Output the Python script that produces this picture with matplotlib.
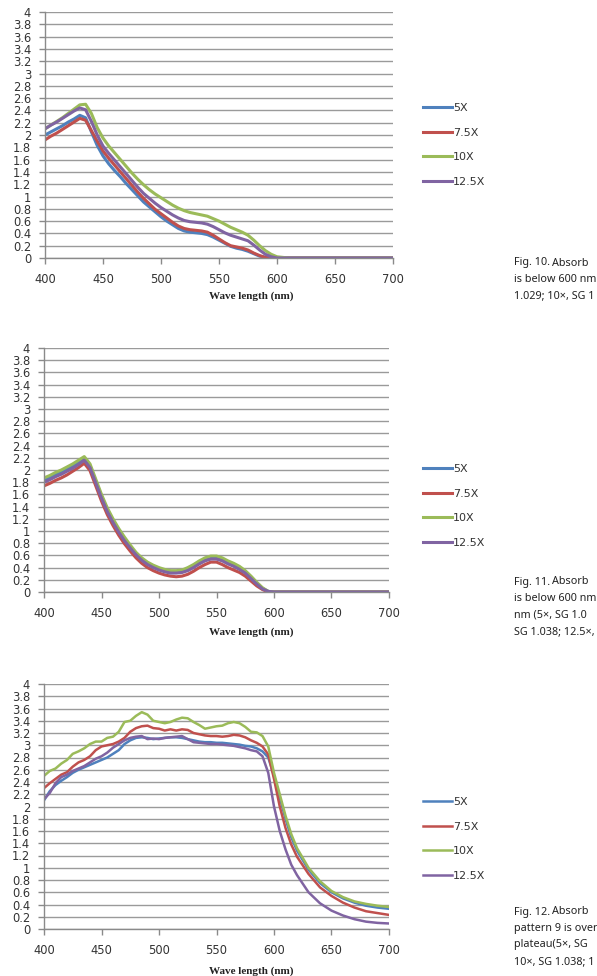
import numpy as np
import matplotlib.pyplot as plt

# ---- data (absorbance vs wavelength) ----
series_names = ["5X", "7.5X", "10X", "12.5X"]
colors = ["#4F81BD", "#C0504D", "#9BBB59", "#8064A2"]

# Fig. 10
wl_10 = [400, 405, 410, 415, 420, 425, 430, 435, 440, 445, 450, 455, 460, 465, 470,
         475, 480, 485, 490, 495, 500, 505, 510, 515, 520, 525, 530, 535, 540, 545,
         550, 555, 560, 565, 570, 575, 580, 585, 590, 595, 600, 605, 610, 700]
f10_5x = [2.00, 2.05, 2.10, 2.15, 2.21, 2.26, 2.32, 2.28, 2.05, 1.83, 1.66, 1.53, 1.42, 1.32, 1.21,
          1.11, 1.01, 0.91, 0.83, 0.75, 0.67, 0.60, 0.54, 0.48, 0.44, 0.42, 0.41, 0.40, 0.38, 0.34,
          0.29, 0.24, 0.19, 0.16, 0.14, 0.11, 0.07, 0.03, 0.01, 0.00, 0.00, 0.00, 0.00, 0.00]
f10_75x = [1.92, 1.98, 2.03, 2.09, 2.15, 2.21, 2.27, 2.24, 2.07, 1.90, 1.74, 1.62, 1.51, 1.40, 1.29,
           1.18, 1.07, 0.97, 0.88, 0.79, 0.72, 0.65, 0.58, 0.52, 0.48, 0.46, 0.45, 0.44, 0.42, 0.37,
           0.31, 0.25, 0.20, 0.18, 0.16, 0.13, 0.08, 0.04, 0.01, 0.00, 0.00, 0.00, 0.00, 0.00]
f10_10x = [2.10, 2.16, 2.22, 2.28, 2.35, 2.42, 2.49, 2.50, 2.35, 2.12, 1.95, 1.82, 1.71, 1.60, 1.49,
           1.38, 1.28, 1.19, 1.11, 1.04, 0.98, 0.92, 0.86, 0.81, 0.77, 0.74, 0.72, 0.70, 0.68, 0.64,
           0.60, 0.55, 0.50, 0.46, 0.42, 0.37, 0.29, 0.20, 0.12, 0.06, 0.02, 0.01, 0.00, 0.00]
f10_125x = [2.10, 2.16, 2.21, 2.27, 2.33, 2.39, 2.44, 2.41, 2.22, 2.00, 1.82, 1.70, 1.59, 1.48, 1.37,
            1.26, 1.15, 1.05, 0.97, 0.89, 0.82, 0.76, 0.70, 0.65, 0.61, 0.59, 0.58, 0.57, 0.55, 0.51,
            0.46, 0.41, 0.37, 0.34, 0.31, 0.28, 0.21, 0.13, 0.06, 0.02, 0.00, 0.00, 0.00, 0.00]

# Fig. 11
wl_11 = wl_10
f11_5x = [1.83, 1.87, 1.92, 1.96, 2.01, 2.06, 2.12, 2.19, 2.07, 1.82, 1.57, 1.35, 1.17, 1.01, 0.87,
          0.74, 0.63, 0.54, 0.47, 0.42, 0.38, 0.35, 0.33, 0.33, 0.34, 0.37, 0.42, 0.48, 0.53, 0.56,
          0.56, 0.53, 0.48, 0.44, 0.39, 0.33, 0.24, 0.14, 0.06, 0.01, 0.00, 0.00, 0.00, 0.00]
f11_75x = [1.74, 1.78, 1.83, 1.87, 1.92, 1.98, 2.04, 2.11, 1.99, 1.74, 1.49, 1.27, 1.09, 0.93, 0.79,
           0.67, 0.56, 0.47, 0.40, 0.35, 0.31, 0.28, 0.26, 0.25, 0.26, 0.29, 0.34, 0.40, 0.45, 0.49,
           0.49, 0.45, 0.40, 0.36, 0.32, 0.26, 0.18, 0.10, 0.04, 0.00, 0.00, 0.00, 0.00, 0.00]
f11_10x = [1.87, 1.91, 1.96, 2.00, 2.05, 2.10, 2.16, 2.22, 2.10, 1.85, 1.60, 1.38, 1.20, 1.04, 0.90,
           0.77, 0.65, 0.56, 0.49, 0.44, 0.40, 0.37, 0.35, 0.35, 0.36, 0.40, 0.45, 0.51, 0.56, 0.59,
           0.59, 0.56, 0.51, 0.47, 0.42, 0.35, 0.26, 0.16, 0.07, 0.01, 0.00, 0.00, 0.00, 0.00]
f11_125x = [1.80, 1.84, 1.89, 1.93, 1.98, 2.03, 2.09, 2.16, 2.04, 1.79, 1.54, 1.32, 1.14, 0.98, 0.84,
            0.72, 0.61, 0.52, 0.45, 0.40, 0.36, 0.33, 0.31, 0.31, 0.32, 0.35, 0.40, 0.46, 0.51, 0.54,
            0.54, 0.51, 0.46, 0.42, 0.37, 0.31, 0.22, 0.13, 0.05, 0.01, 0.00, 0.00, 0.00, 0.00]

# Fig. 12
wl_12 = [400, 405, 410, 415, 420, 425, 430, 435, 440, 445, 450, 455, 460, 465, 470,
         475, 480, 485, 490, 495, 500, 505, 510, 515, 520, 525, 530, 535, 540, 545,
         550, 555, 560, 565, 570, 575, 580, 585, 590, 595, 600, 605, 610, 615, 620,
         630, 640, 650, 660, 670, 680, 690, 700]
f12_5x = [2.10, 2.25, 2.35, 2.42, 2.48, 2.55, 2.60, 2.64, 2.68, 2.72, 2.76, 2.80, 2.86, 2.92, 3.02,
          3.08, 3.12, 3.13, 3.12, 3.10, 3.11, 3.12, 3.13, 3.13, 3.12, 3.10, 3.08, 3.06, 3.05, 3.05,
          3.04, 3.04, 3.03, 3.02, 3.01, 2.99, 2.98, 2.95, 2.90, 2.80, 2.50, 2.15, 1.80, 1.50, 1.28,
          0.97, 0.75, 0.60, 0.50, 0.43, 0.38, 0.35, 0.33]
f12_75x = [2.30, 2.38, 2.45, 2.52, 2.56, 2.65, 2.72, 2.76, 2.82, 2.92, 2.98, 3.00, 3.02, 3.06, 3.12,
           3.22, 3.28, 3.31, 3.32, 3.28, 3.27, 3.24, 3.26, 3.24, 3.26, 3.25, 3.20, 3.18, 3.16, 3.15,
           3.15, 3.14, 3.15, 3.17, 3.16, 3.13, 3.08, 3.04, 2.98, 2.85, 2.45, 2.00, 1.65, 1.38, 1.18,
           0.90, 0.68, 0.54, 0.43, 0.35, 0.29, 0.26, 0.23]
f12_10x = [2.50, 2.58, 2.62, 2.70, 2.76, 2.86, 2.90, 2.95, 3.02, 3.06, 3.06, 3.12, 3.14, 3.22, 3.38,
           3.40, 3.48, 3.54, 3.50, 3.40, 3.38, 3.36, 3.38, 3.42, 3.45, 3.44, 3.38, 3.33, 3.27, 3.29,
           3.31, 3.32, 3.36, 3.38, 3.36, 3.30, 3.22, 3.21, 3.15, 2.98, 2.55, 2.20, 1.85, 1.55, 1.32,
           1.00, 0.78, 0.62, 0.52, 0.45, 0.41, 0.38, 0.36]
f12_125x = [2.12, 2.22, 2.38, 2.48, 2.52, 2.58, 2.62, 2.66, 2.72, 2.78, 2.82, 2.88, 2.96, 3.02, 3.08,
            3.12, 3.14, 3.15, 3.10, 3.11, 3.10, 3.12, 3.13, 3.14, 3.15, 3.10, 3.05, 3.04, 3.03, 3.02,
            3.02, 3.01, 3.00, 2.99, 2.97, 2.95, 2.92, 2.90, 2.82, 2.55, 2.00, 1.60, 1.30, 1.05, 0.88,
            0.60, 0.42, 0.30, 0.22, 0.16, 0.12, 0.10, 0.09]

x_ticks = [400, 450, 500, 550, 600, 650, 700]
y_ticks = np.round(np.arange(0, 4.01, 0.2), 1)
y_ticklabels = [("%g" % v) for v in y_ticks]

# caption text as far as the page shows it
captions = [
    ["Absorb", "is below 600 nm", "1.029; 10\u00d7, SG 1"],
    ["Absorb", "is below 600 nm", "nm (5\u00d7, SG 1.0", "SG 1.038; 12.5\u00d7,"],
    ["Absorb", "pattern 9 is over", "plateau(5\u00d7, SG", "10\u00d7, SG 1.038; 1"],
]

W, H = 597, 976
fig = plt.figure(figsize=(W / 100, H / 100), dpi=100)

# axes boxes in pixels: left, top, right, bottom
boxes = [(45, 12, 393, 258), (44, 348, 389, 592), (44, 684, 389, 929)]
legend_tops = [103, 464, 797]
xlabel_y = [296, 632, 971]
caption_y = [263, 582, 912]

panels = [
    (wl_10, [f10_5x, f10_75x, f10_10x, f10_125x], 2.2),
    (wl_11, [f11_5x, f11_75x, f11_10x, f11_125x], 2.2),
    (wl_12, [f12_5x, f12_75x, f12_10x, f12_125x], 1.8),
]

for i, (wl, ys, lw) in enumerate(panels):
    l, t, r, b = boxes[i]
    ax = fig.add_axes([l / W, 1 - b / H, (r - l) / W, (b - t) / H])
    for name, c, y in zip(series_names, colors, ys):
        ax.plot(wl, y, color=c, lw=lw, label=name, solid_joinstyle="round")
    ax.set_xlim(400, 700)
    ax.set_ylim(0, 4)
    ax.set_xticks(x_ticks)
    ax.set_yticks(y_ticks)
    ax.set_yticklabels(y_ticklabels)
    ax.grid(axis="y", color="#9a9a9a", lw=1.0)
    ax.set_axisbelow(True)
    for s in ["top", "right"]:
        ax.spines[s].set_visible(False)
    for s in ["left", "bottom"]:
        ax.spines[s].set_color("#8a8a8a")
        ax.spines[s].set_linewidth(1.0)
    ax.tick_params(axis="both", direction="out", length=4, width=1.0,
                   color="#8a8a8a", labelsize=8.3, labelcolor="#333333")
    ax.tick_params(axis="y", pad=6)
    ax.tick_params(axis="x", pad=7)

    ax.legend(loc="upper left", bbox_to_anchor=(423 / W, 1 - legend_tops[i] / H),
              bbox_transform=fig.transFigure, frameon=False, fontsize=8,
              handlelength=2.6, handletextpad=0.1, labelspacing=1.32,
              borderpad=0, borderaxespad=0, labelcolor="#333333")

    fig.text(251 / W, 1 - xlabel_y[i] / H, "Wave length (nm)", ha="center", va="center",
             family="Liberation Serif", weight="bold", fontsize=8, color="#222222")

    # caption beside each chart (the page edge cuts it in the reference)
    cy = caption_y[i]
    fig.text(514 / W, 1 - cy / H, "Fig. %d." % (10 + i), ha="left", va="center",
             family="Noto Sans", weight="bold", fontsize=7.8, color="#222222")
    for k, line in enumerate(captions[i]):
        x0 = 552 if k == 0 else 514
        fig.text(x0 / W, 1 - (cy + 16.5 * k) / H, line, ha="left", va="center",
                 family="Noto Sans", fontsize=7.8, color="#222222")

fig.savefig("out.png", dpi=100)
